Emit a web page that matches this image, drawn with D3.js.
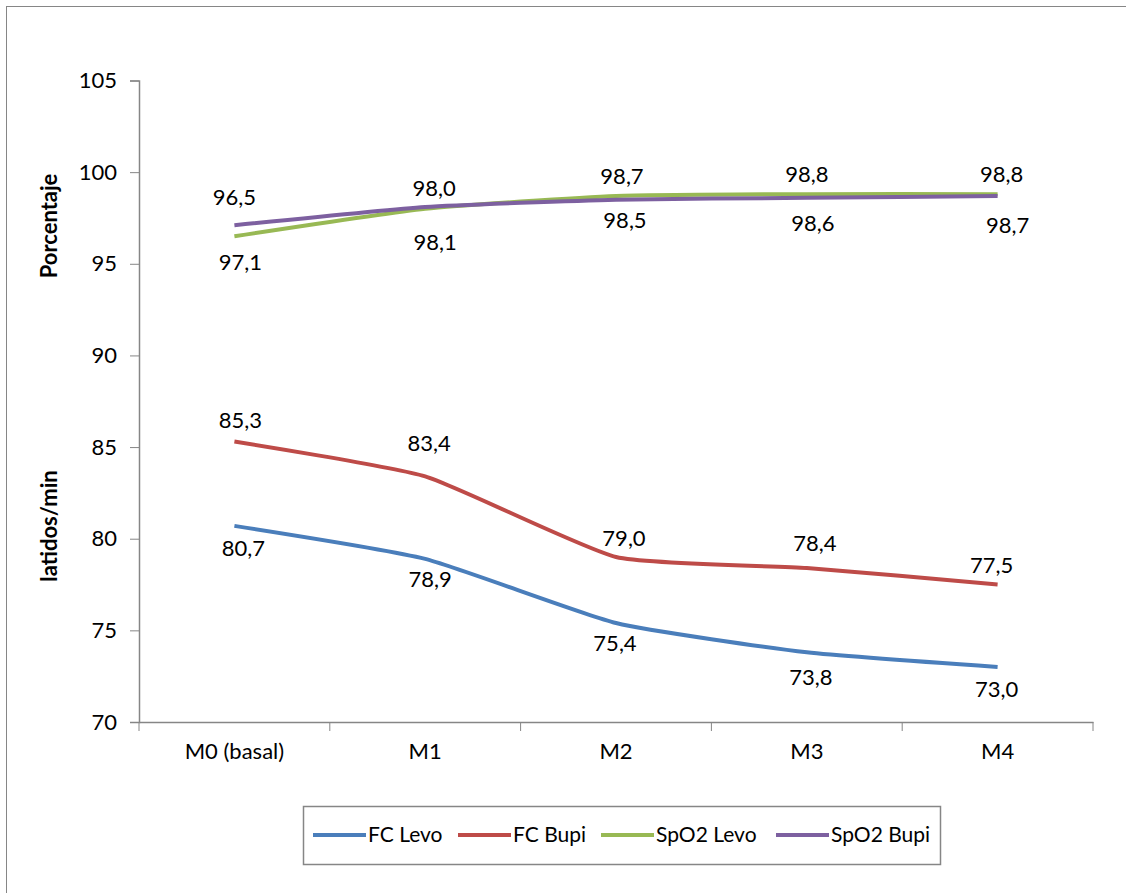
<!DOCTYPE html>
<html lang="es">
<head>
<meta charset="UTF-8">
<script src="https://cdn.jsdelivr.net/npm/d3@7"></script>
<style>
  body { margin: 0; background: #fff; }
  text { font-family: Lato, "Open Sans", sans-serif; fill: #000; }
</style>
</head>
<body>
<div id="container"></div>
<script>
// datos
var categories = ["M0 (basal)", "M1", "M2", "M3", "M4"];
var fcLevo   = [80.7, 78.9, 75.4, 73.8, 73.0];
var fcBupi   = [85.3, 83.4, 79.0, 78.4, 77.5];
var spo2Levo = [96.5, 98.0, 98.7, 98.8, 98.8];
var spo2Bupi = [97.1, 98.1, 98.5, 98.6, 98.7];
var yTicks   = [70, 75, 80, 85, 90, 95, 100, 105];
var seriesNames = ["FC Levo", "FC Bupi", "SpO2 Levo", "SpO2 Bupi"];

// desplazamiento de etiquetas (colocadas a mano en el original)
var labelOffsets = [
  [[9, 22], [5, 20], [-1, 20], [4, 25], [-1, 22]],
  [[6, -21], [4, -33], [8, -19], [8, -25], [-6, -19]],
  [[0, -39], [9, -21], [6, -20], [0, -20], [4, -20]],
  [[6, 37], [10, 35], [9, 21], [6, 25], [10, 29]]
];
var colors = ["#4A7EBB", "#BE4B48", "#98B954", "#7D60A0"];

var width = 1126, height = 893;
var svg = d3.select("#container").append("svg").attr("width", width).attr("height", height);

// marco exterior
svg.append("rect").attr("x", 6.5).attr("y", 6.5).attr("width", 1200).attr("height", 1000)
  .attr("fill", "none").attr("stroke", "#868686").attr("stroke-width", 1);

var x = d3.scaleBand().domain(categories).range([139, 1093]);
var y = d3.scaleLinear().domain([70, 105]).range([722, 80.5]);

// eje y
var yAxis = svg.append("g").attr("transform", "translate(139,0)")
  .call(d3.axisLeft(y).tickValues(yTicks).tickSize(9).tickPadding(13));
// eje x
var xAxis = svg.append("g").attr("transform", "translate(0,722)")
  .call(d3.axisBottom(x).tickSize(0).tickPadding(33));
svg.append("g").selectAll("line")
  .data(d3.range(categories.length + 1))
  .enter().append("line")
  .attr("x1", function(i){ return x.range()[0] + i * x.step(); })
  .attr("x2", function(i){ return x.range()[0] + i * x.step(); })
  .attr("y1", 722).attr("y2", 731)
  .attr("stroke", "#868686").attr("stroke-width", 1);

[yAxis, xAxis].forEach(function(a){
  a.select(".domain").attr("stroke", "#868686").attr("stroke-width", 1.5);
  a.selectAll(".tick line").attr("stroke", "#868686").attr("stroke-width", 1);
  a.selectAll(".tick text").style("font-family", "Lato, sans-serif").style("font-size", "22px")
    .attr("fill", "#000");
});
xAxis.selectAll(".tick text").attr("dy", "0.2em");

// titulos
svg.append("text").attr("transform", "translate(57,226) rotate(-90)")
  .attr("text-anchor", "middle").style("font-size", "22px").style("font-weight", "bold")
  .text("Porcentaje");
svg.append("text").attr("transform", "translate(57,526) rotate(-90)")
  .attr("text-anchor", "middle").style("font-size", "22px").style("font-weight", "bold")
  .text("latidos/min");

// lineas
var allSeries = [fcLevo, fcBupi, spo2Levo, spo2Bupi];
var line = d3.line()
  .x(function(d, i){ return x(categories[i]) + x.bandwidth() / 2; })
  .y(function(d){ return y(d); })
  .curve(d3.curveCardinal.tension(0.5));

allSeries.forEach(function(s, k){
  svg.append("path").datum(s)
    .attr("fill", "none").attr("stroke", colors[k]).attr("stroke-width", 4)
    .attr("d", line);
});

// etiquetas de datos
allSeries.forEach(function(s, k){
  svg.append("g").selectAll("text").data(s).enter().append("text")
    .attr("x", function(d, i){ return x(categories[i]) + x.bandwidth() / 2 + labelOffsets[k][i][0]; })
    .attr("y", function(d, i){ return y(d) + labelOffsets[k][i][1]; })
    .attr("dy", "0.35em").attr("text-anchor", "middle")
    .style("font-size", "22px")
    .text(function(d){ return d.toFixed(1).replace(".", ","); });
});

// leyenda
var legendX = [313, 458, 601, 776];
svg.append("rect").attr("x", 303.5).attr("y", 806.5).attr("width", 637).attr("height", 58)
  .attr("fill", "#fff").attr("stroke", "#868686").attr("stroke-width", 1.5);
var lg = svg.append("g").selectAll("g").data(seriesNames).enter().append("g")
  .attr("transform", function(d, i){ return "translate(" + legendX[i] + ",835)"; });
lg.append("line").attr("x1", 0).attr("x2", 53).attr("y1", 0).attr("y2", 0)
  .attr("stroke", function(d, i){ return colors[i]; }).attr("stroke-width", 4);
lg.append("text").attr("x", 55).attr("dy", "0.35em").style("font-size", "21px")
  .text(function(d){ return d; });
</script>
</body>
</html>
